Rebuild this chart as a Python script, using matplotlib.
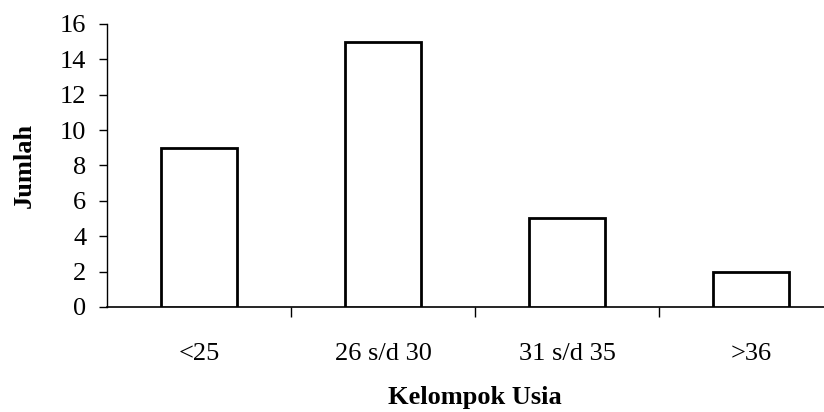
import matplotlib

matplotlib.use("Agg")
import matplotlib.pyplot as plt
from matplotlib.ticker import FixedLocator

plt.rcParams["font.family"] = ["Liberation Serif", "DejaVu Serif"]

# Jumlah responden per kelompok usia
categories = ["<25", "26 s/d 30", "31 s/d 35", ">36"]
counts = [9, 15, 5, 2]
y_ticks = [0, 2, 4, 6, 8, 10, 12, 14, 16]

fig = plt.figure(figsize=(8.24, 4.12), dpi=100)
fig.patch.set_facecolor("white")
# axes run slightly past the right edge, as in the printed page
ax = fig.add_axes([0.13, 0.255, 0.893, 0.687])

x = list(range(len(categories)))
ax.bar(x, counts, width=0.41, facecolor="white", edgecolor="black",
       linewidth=2.0, zorder=3)

ax.set_xlim(-0.5, len(categories) - 0.5)
ax.set_ylim(0, 16)
ax.set_yticks(y_ticks)
ax.set_xticks(x)
ax.set_xticklabels(categories)
ax.xaxis.set_minor_locator(FixedLocator([0.5, 1.5, 2.5]))

ax.tick_params(axis="x", which="major", length=0, pad=26, labelsize=19)
ax.tick_params(axis="x", which="minor", length=7, width=1.0, direction="out")
ax.tick_params(axis="y", length=6, width=1.0, direction="out", pad=9,
               labelsize=19)

for side in ("top", "right"):
    ax.spines[side].set_visible(False)
ax.spines["left"].set_linewidth(1.0)
ax.spines["bottom"].set_linewidth(1.2)

ax.set_ylabel("Jumlah", fontsize=19, fontweight="bold", labelpad=17)
ax.set_xlabel("Kelompok Usia", fontsize=19, fontweight="bold", labelpad=15)

fig.savefig("out.png", dpi=100, facecolor="white")
